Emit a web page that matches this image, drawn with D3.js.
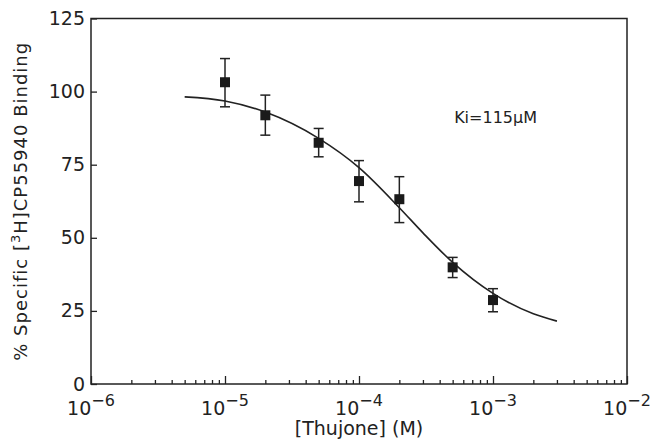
<!doctype html>
<html lang="en">
<head>
<meta charset="utf-8">
<script src="https://d3js.org/d3.v7.min.js"></script>
<title>Thujone binding</title>
<style>
  body { margin: 0; background: #fff; }
  svg text { font-family: "DejaVu Sans", sans-serif; fill: #222; }
</style>
</head>
<body>
<svg id="chart"></svg>
<script>
// measured points: concentration (M), % specific binding, error bar ends
const conc = [1e-5, 2e-5, 5e-5, 1e-4, 2e-4, 5e-4, 1e-3];
const binding = [103.2, 91.9, 82.5, 69.4, 63.2, 39.9, 28.7];
const errHigh = [111.3, 98.8, 87.4, 76.4, 70.9, 43.3, 32.6];
const errLow = [94.8, 85.1, 77.7, 62.3, 55.2, 36.4, 24.7];

// fitted curve
const curveX = [5e-6, 1e-5, 2e-5, 5e-5, 1e-4, 2e-4, 3e-4, 5e-4, 1e-3, 2e-3, 3e-3];
const curveY = [98.2, 96.8, 93.0, 84.0, 74.0, 60.3, 51.7, 41.6, 31.0, 24.0, 21.5];

const decades = [-6, -5, -4, -3, -2];
const yTicks = [0, 25, 50, 75, 100, 125];

const width = 650, height = 440;
const margin = { top: 18.5, right: 23, bottom: 56, left: 91 };

const svg = d3.select("#chart").attr("width", width).attr("height", height);

const x = d3.scaleLog().domain([1e-6, 1e-2]).range([margin.left, width - margin.right]);
const y = d3.scaleLinear().domain([0, 125]).range([height - margin.bottom, margin.top]);

const ink = "#222";

// frame
svg.append("rect")
    .attr("x", x.range()[0]).attr("y", y.range()[1])
    .attr("width", x.range()[1] - x.range()[0])
    .attr("height", y.range()[0] - y.range()[1])
    .attr("fill", "none").attr("stroke", ink).attr("stroke-width", 1.5);

// x ticks, minor and major, pointing inward
const minor = [];
decades.slice(0, -1).forEach(e => {
    for (let m = 2; m <= 9; m++) minor.push(m * Math.pow(10, e));
});
const major = decades.map(e => Math.pow(10, e));

const xAxisMinor = svg.append("g")
    .attr("transform", `translate(0,${y(0)})`)
    .call(d3.axisBottom(x).tickValues(minor).tickSize(-4).tickFormat(""));
const xAxisMajor = svg.append("g")
    .attr("transform", `translate(0,${y(0)})`)
    .call(d3.axisBottom(x).tickValues(major).tickSize(-8).tickFormat(""));
[xAxisMinor, xAxisMajor].forEach(g => {
    g.select(".domain").remove();
    g.selectAll("line").attr("stroke", ink).attr("stroke-width", 1.3);
});

// x tick labels with superscripts
const xl = svg.append("g");
decades.forEach(e => {
    const t = xl.append("text")
        .attr("x", x(Math.pow(10, e)))
        .attr("y", y(0) + 31)
        .attr("text-anchor", "middle")
        .attr("font-size", 19);
    t.append("tspan").text("10");
    t.append("tspan").attr("dy", -9).attr("font-size", 16).text("\u2212" + (-e));
});

// y axis
const yAxis = svg.append("g")
    .attr("transform", `translate(${x.range()[0]},0)`)
    .call(d3.axisLeft(y).tickValues(yTicks).tickSize(-6).tickPadding(6));
yAxis.select(".domain").remove();
yAxis.selectAll("line").attr("stroke", ink).attr("stroke-width", 1.3);
yAxis.selectAll("text").attr("font-size", 19).attr("font-family", "DejaVu Sans").attr("fill", ink);

// axis titles
svg.append("text")
    .attr("x", (x.range()[0] + x.range()[1]) / 2)
    .attr("y", height - 5)
    .attr("text-anchor", "middle")
    .attr("font-size", 19)
    .text("[Thujone]  (M)");

const yt = svg.append("text")
    .attr("transform", `translate(27,${(y.range()[0] + y.range()[1]) / 2}) rotate(-90)`)
    .attr("text-anchor", "middle")
    .attr("font-size", 18)
    .attr("letter-spacing", 1);
yt.append("tspan").text("%  Specific   [");
yt.append("tspan").attr("dy", -7).attr("font-size", 13).text("3");
yt.append("tspan").attr("dy", 7).text("H]CP55940   Binding");

// fitted curve
const line = d3.line()
    .x(d => x(d[0]))
    .y(d => y(d[1]))
    .curve(d3.curveMonotoneX);
svg.append("path")
    .datum(curveX.map((c, i) => [c, curveY[i]]))
    .attr("fill", "none").attr("stroke", ink).attr("stroke-width", 1.6)
    .attr("d", line);

// error bars
const pts = conc.map((c, i) => ({ c, v: binding[i], hi: errHigh[i], lo: errLow[i] }));
const eb = svg.append("g").attr("stroke", ink).attr("stroke-width", 1.5);
eb.selectAll("line.v").data(pts).join("line").attr("class", "v")
    .attr("x1", d => x(d.c)).attr("x2", d => x(d.c))
    .attr("y1", d => y(d.hi)).attr("y2", d => y(d.lo));
eb.selectAll("line.t").data(pts).join("line").attr("class", "t")
    .attr("x1", d => x(d.c) - 5).attr("x2", d => x(d.c) + 5)
    .attr("y1", d => y(d.hi)).attr("y2", d => y(d.hi));
eb.selectAll("line.b").data(pts).join("line").attr("class", "b")
    .attr("x1", d => x(d.c) - 5).attr("x2", d => x(d.c) + 5)
    .attr("y1", d => y(d.lo)).attr("y2", d => y(d.lo));

// square markers
const s = 10;
svg.append("g").selectAll("rect").data(pts).join("rect")
    .attr("x", d => x(d.c) - s / 2).attr("y", d => y(d.v) - s / 2)
    .attr("width", s).attr("height", s)
    .attr("fill", "#1a1a1a");

// annotation
svg.append("text")
    .attr("x", 537).attr("y", 123)
    .attr("text-anchor", "end")
    .attr("font-size", 16)
    .text("Ki=115\u03bcM");
</script>
</body>
</html>
